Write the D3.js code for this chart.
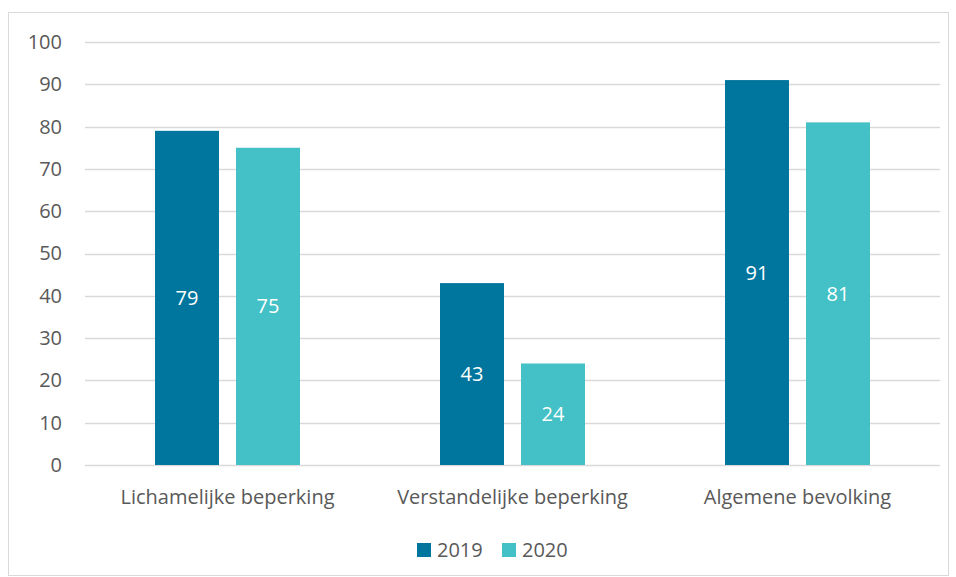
<!DOCTYPE html>
<html>
<head>
<meta charset="utf-8">
<script src="https://cdn.jsdelivr.net/npm/d3@7"></script>
<style>
  body { margin: 0; background: #fff; }
  svg text { font-family: "Open Sans", sans-serif; fill: #595959; }
</style>
</head>
<body>
<svg id="chart" width="956" height="577"></svg>
<script>
var categories = ["Lichamelijke beperking", "Verstandelijke beperking", "Algemene bevolking"];
var years = ["2019", "2020"];
var values2019 = [79, 43, 91];
var values2020 = [75, 24, 81];
var colors = ["#00759E", "#43C1C6"];

var svg = d3.select("#chart");
var margin = { left: 85, right: 16, top: 42, bottom: 112 };
var width = 956 - margin.left - margin.right;
var height = 577 - margin.top - margin.bottom;

// outer border
svg.append("rect")
  .attr("x", 8.5).attr("y", 12.5)
  .attr("width", 940).attr("height", 563)
  .attr("fill", "none").attr("stroke", "#D9D9D9");

var g = svg.append("g").attr("transform", `translate(${margin.left},${margin.top})`);

var y = d3.scaleLinear().domain([0, 100]).range([height, 0]);
var x0 = d3.scaleBand().domain(categories).range([0, width]);
var x1 = d3.scaleBand().domain(years).range([0, 145]).paddingInner(0.21);

// gridlines
g.selectAll(".grid")
  .data(y.ticks(10))
  .enter()
  .append("line")
  .attr("x1", 0).attr("x2", width)
  .attr("y1", d => Math.round(y(d)) + 0.5)
  .attr("y2", d => Math.round(y(d)) + 0.5)
  .attr("stroke", "#D9D9D9")
  .attr("stroke-width", 1.5);

// y axis labels
var yAxis = d3.axisLeft(y).ticks(10).tickSize(0).tickPadding(23);
g.append("g").call(yAxis)
  .call(a => a.select(".domain").remove())
  .selectAll("text")
  .style("font-size", "20px")
  .attr("fill", "#595959");

var data = categories.map((c, i) => ({ cat: c, vals: [values2019[i], values2020[i]] }));

var groups = g.selectAll(".grp")
  .data(data)
  .enter()
  .append("g")
  .attr("transform", d => `translate(${x0(d.cat) + x0.bandwidth() / 2 - 72.5},0)`);

groups.selectAll("rect")
  .data(d => d.vals.map((v, j) => ({ year: years[j], v: v, j: j })))
  .enter()
  .append("rect")
  .attr("x", d => x1(d.year))
  .attr("width", x1.bandwidth())
  .attr("y", d => y(d.v))
  .attr("height", d => y(0) - y(d.v))
  .attr("fill", d => colors[d.j]);

groups.selectAll(".lbl")
  .data(d => d.vals.map((v, j) => ({ year: years[j], v: v })))
  .enter()
  .append("text")
  .attr("x", d => x1(d.year) + x1.bandwidth() / 2)
  .attr("y", d => (y(d.v) + y(0)) / 2 + 7)
  .attr("text-anchor", "middle")
  .style("font-size", "20px")
  .style("fill", "#fff")
  .text(d => d.v);

// category labels
g.selectAll(".cat")
  .data(categories)
  .enter()
  .append("text")
  .attr("x", d => x0(d) + x0.bandwidth() / 2)
  .attr("y", height + 39)
  .attr("text-anchor", "middle")
  .style("font-size", "20px")
  .text(d => d);

// legend
var legend = svg.append("g").attr("transform", "translate(417,550)");
var items = legend.selectAll("g")
  .data(years)
  .enter()
  .append("g")
  .attr("transform", (d, i) => `translate(${i * 85},0)`);
items.append("rect")
  .attr("x", 0).attr("y", -7)
  .attr("width", 14).attr("height", 14)
  .attr("fill", (d, i) => colors[i]);
items.append("text")
  .attr("x", 20).attr("y", 7)
  .style("font-size", "20px")
  .text(d => d);
</script>
</body>
</html>
